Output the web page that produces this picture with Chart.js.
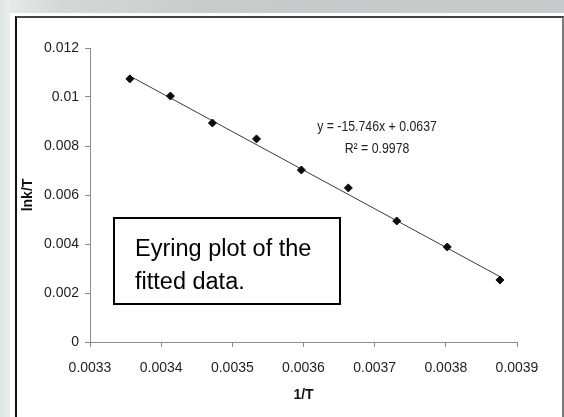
<!DOCTYPE html>
<html>
<head>
<meta charset="utf-8">
<script src="https://cdn.jsdelivr.net/npm/chart.js@4/dist/chart.umd.min.js"></script>
<style>
  html, body { margin: 0; padding: 0; background: #ffffff; }
  #page { position: relative; width: 564px; height: 417px; overflow: hidden; background: #ffffff; }
  #topband { position: absolute; left: 0; top: 0; width: 564px; height: 13px;
    background: linear-gradient(to right, #e9eded 0px, #d3d8d8 60px, #c7cccc 200px, #c5caca 564px); }
  #leftband { position: absolute; left: 0; top: 0; width: 10px; height: 417px;
    background: linear-gradient(to right, #dfe6e6, #e9eeee); }
  #frame { position: absolute; left: 15px; top: 16px; width: 545px; height: 420px;
    border-left: 2px solid #111111; border-top: 2px solid #444444; border-right: 2px solid #7a7a7a;
    background: #ffffff; }
  #chart { position: absolute; left: 0; top: 0; }
</style>
</head>
<body>
<div id="page">
  <div id="topband"></div>
  <div id="leftband"></div>
  <div id="frame"></div>
  <canvas id="chart" width="564" height="417"></canvas>
</div>
<script>
// Reciprocal temperature (1/K) and ln(k)/T values
const invT = [0.003356, 0.003413, 0.003472, 0.003534, 0.003597, 0.003663, 0.003731, 0.003802, 0.003876];
const lnkOverT = [0.01074, 0.01004, 0.00894, 0.00829, 0.00702, 0.00629, 0.00494, 0.00388, 0.00253];

// Linear fit reported on the chart
const fitSlope = -15.746;
const fitIntercept = 0.0637;
const fitR2 = 0.9978;

// Axis ranges and tick steps
const xRange = [0.0033, 0.0039];
const xStep = 0.0001;
const yRange = [0, 0.012];
const yStep = 0.002;

const axisLabelX = '1/T';
const axisLabelY = 'lnk/T';
const noteLines = ['Eyring plot of the', 'fitted data.'];

const tickFont = "'Liberation Sans', Arial, sans-serif";

const points = invT.map((x, i) => ({ x: x, y: lnkOverT[i] }));
const xFirst = Math.min(...invT);
const xLast = Math.max(...invT);
const trend = [
  { x: xFirst, y: fitSlope * xFirst + fitIntercept },
  { x: xLast, y: fitSlope * xLast + fitIntercept }
];

// Equation label and the boxed note drawn on top of the plot
const annotations = {
  id: 'annotations',
  afterDraw(chart) {
    const ctx = chart.ctx;
    ctx.save();
    // narrow equation text
    ctx.translate(377, 0);
    ctx.scale(0.82, 1);
    ctx.fillStyle = '#222222';
    ctx.textAlign = 'center';
    ctx.textBaseline = 'middle';
    ctx.font = "15px " + tickFont;
    ctx.fillText('y = ' + fitSlope + 'x + ' + fitIntercept, 0, 127);
    ctx.fillText('R\u00B2 = ' + fitR2, 0, 149);
    ctx.restore();

    // note box
    ctx.save();
    ctx.strokeStyle = '#000000';
    ctx.lineWidth = 2;
    ctx.fillStyle = '#ffffff';
    ctx.fillRect(114, 218, 226, 86);
    ctx.strokeRect(114, 218, 226, 86);
    ctx.fillStyle = '#000000';
    ctx.textAlign = 'left';
    ctx.textBaseline = 'alphabetic';
    ctx.font = "23.5px 'Liberation Sans', Arial, sans-serif";
    ctx.fillText(noteLines[0], 135, 256);
    ctx.fillText(noteLines[1], 135, 289);
    ctx.restore();
  }
};

new Chart(document.getElementById('chart'), {
  type: 'scatter',
  data: {
    datasets: [
      {
        label: 'Linear fit',
        type: 'line',
        data: trend,
        borderColor: '#3a3a3a',
        borderWidth: 1,
        pointRadius: 0,
        fill: false,
        order: 2
      },
      {
        label: 'lnk/T',
        data: points,
        pointStyle: 'rectRot',
        pointRadius: 4,
        pointBackgroundColor: '#0a0a14',
        pointBorderColor: '#0a0a14',
        pointBorderWidth: 1,
        order: 1
      }
    ]
  },
  options: {
    responsive: false,
    animation: false,
    events: [],
    layout: { padding: { left: 16, top: 48, right: 47, bottom: 9 } },
    plugins: {
      legend: { display: false },
      tooltip: { enabled: false }
    },
    scales: {
      x: {
        type: 'linear',
        min: xRange[0],
        max: xRange[1],
        afterFit(scale) { scale.height = 66; },
        border: { color: '#8c8c8c', width: 1 },
        grid: { display: true, drawOnChartArea: false, drawTicks: true, tickLength: 5, color: '#8c8c8c' },
        ticks: {
          stepSize: xStep,
          padding: 13,
          color: '#1e1e1e',
          font: { family: tickFont, size: 14 },
          maxRotation: 0,
          callback: v => v.toFixed(4)
        },
        title: {
          display: true,
          text: axisLabelX,
          color: '#111111',
          font: { family: tickFont, size: 14, weight: 'bold' },
          padding: { top: 4, bottom: 4 }
        }
      },
      y: {
        type: 'linear',
        min: yRange[0],
        max: yRange[1],
        afterFit(scale) { scale.width = 74; },
        border: { color: '#8c8c8c', width: 1 },
        grid: { display: true, drawOnChartArea: false, drawTicks: true, tickLength: 5, color: '#8c8c8c' },
        ticks: {
          stepSize: yStep,
          padding: 6,
          color: '#1e1e1e',
          font: { family: tickFont, size: 14 },
          callback: v => String(parseFloat(v.toFixed(3)))
        },
        title: {
          display: true,
          text: axisLabelY,
          color: '#111111',
          font: { family: tickFont, size: 14, weight: 'bold' },
          padding: { top: 4, bottom: 4 }
        }
      }
    }
  },
  plugins: [annotations]
});
</script>
</body>
</html>
